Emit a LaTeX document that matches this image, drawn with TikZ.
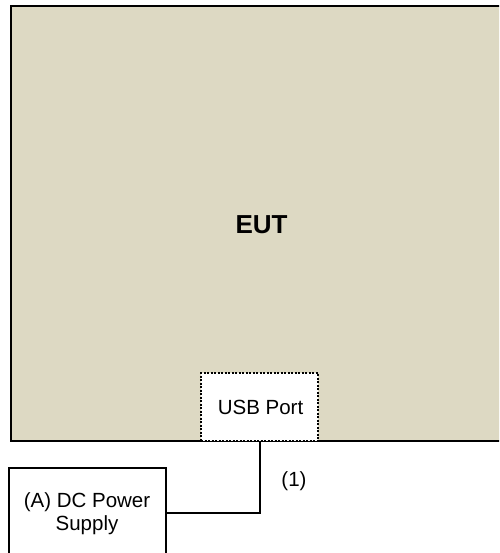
\documentclass[tikz,border=0pt]{standalone}
\usepackage{fontspec}
\setmainfont{Liberation Sans}
\definecolor{euttan}{HTML}{DDD9C3}
\begin{document}
\begin{tikzpicture}[x=1pt,y=-1pt,
  box/.style={draw=black,line width=2pt,rectangle,inner sep=0pt,anchor=center},
  lbl/.style={font=\fontsize{20.5}{23}\selectfont,align=center},
  cable/.style={draw=black,line width=2pt}]
\useasboundingbox (0,0) rectangle (499,553);
\clip (0,0) rectangle (499,553);
\node[box,fill=euttan,line width=2.5pt,minimum width=500pt,minimum height=435pt] (eut) at (261,223.5) {};
\node[font=\fontsize{26}{30}\selectfont\bfseries] (euttext) at (261.5,224.5) {EUT};
\node[draw=black,line width=2pt,dash pattern=on 2pt off 1.5pt,fill=white,minimum width=117pt,minimum height=68pt,inner sep=0pt] (usb) at (259.5,407) {};
\node[lbl] (usbtext) at (260.5,407.5) {USB Port};
\node[box,fill=white,minimum width=157pt,minimum height=100pt] (psu) at (87.5,517.5) {};
\node[lbl] (psutext) at (87,514) {(A) DC Power\\Supply};
\coordinate (bend) at (260,513);
\draw[cable] (260,441) -- (bend) -- (166,513);
\node[lbl] (one) at (294,481) {(1)};
\end{tikzpicture}
\end{document}
